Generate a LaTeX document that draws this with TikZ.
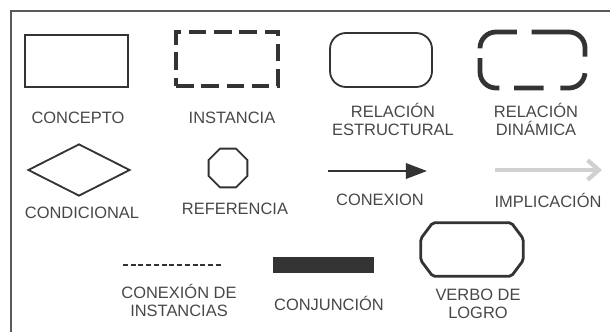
\documentclass[tikz,border=0pt]{standalone}
\usepackage{fontspec}
\setmainfont{Liberation Sans}
\usetikzlibrary{shapes.geometric,arrows.meta}
\definecolor{tinta}{HTML}{333333}
\definecolor{letra}{HTML}{474747}
\definecolor{marco}{HTML}{5A5A5A}
\definecolor{claro}{HTML}{D0D0D0}
\tikzset{
    caja/.style ={
        rectangle,
        minimum width =2.575cm,
        minimum height =1.3cm,
        inner sep=0pt,
        line width=1.6pt,
        draw=tinta
    },
    cajadash/.style ={
        caja,
        minimum width =2.55cm,
        minimum height =1.35cm,
        line width=2.2pt,
        dash pattern=on 12.5pt off 5.5pt
    },
    relest/.style ={
        rectangle,
        rounded corners=0.4cm,
        minimum width =2.55cm,
        minimum height =1.35cm,
        inner sep=0pt,
        line width=1.3pt,
        draw=tinta
    },
    reldin/.style ={
        relest,
        minimum width =2.625cm,
        minimum height =1.4cm,
        line width=3.4pt,
        dash pattern=on 49pt off 10.5pt on 32.9pt off 7pt on 30.1pt off 10.5pt on 21pt off 11.9pt on 23.1pt off 11.9pt,
        dash phase=22.4pt
    },
    verbo/.style ={
        rectangle,
        minimum width =2.55cm,
        minimum height =1.325cm,
        inner sep=0pt
    },
    octo/.style ={
        line width=2pt,
        rounded corners=1.5pt,
        draw=tinta
    },
    rombo/.style ={
        diamond,
        minimum width =2.55cm,
        minimum height =1.3cm,
        inner sep=0pt,
        line width=1.3pt,
        draw=tinta
    },
    octa/.style ={
        regular polygon,
        regular polygon sides=8,
        minimum size=1.05cm,
        inner sep=0pt,
        line width=1.3pt,
        draw=tinta
    },
    barra/.style ={
        rectangle,
        minimum width =2.525cm,
        minimum height =0.4cm,
        inner sep=0pt,
        fill=tinta
    },
    texto/.style ={
        align=center,
        inner sep=0pt,
        text=letra,
        font=\fontsize{11.7}{12.8}\selectfont
    }
}

\begin{document}
\begin{tikzpicture}
    \useasboundingbox (0,0) rectangle (15.25,-8.275);
    \draw[marco, line width=2pt] (0.275,-8.4) -- (0.275,-0.275) -- (15.4,-0.275);

        % primera fila
        \node[caja] (CONC) at(1.9125,-1.525) {};
        \node[cajadash] (INST) at(5.675,-1.475) {};
        \node[relest] (RELEST) at(9.525,-1.5) {};
        \node[reldin] (RELDIN) at(13.3125,-1.5) {};
        \node[texto] (TCONC) at(1.95,-2.95) {CONCEPTO};
        \node[texto] (TINST) at(5.8,-2.95) {INSTANCIA};
        \node[texto] (TRELEST) at(9.825,-2.975) {RELACIÓN\\ESTRUCTURAL};
        \node[texto] (TRELDIN) at(13.4,-2.975) {RELACIÓN\\DINÁMICA};

        % segunda fila
        \node[rombo] (COND) at(1.975,-4.25) {};
        \node[octa] (REF) at(5.7,-4.2) {};
        \coordinate (CONA) at(8.2,-4.275);
        \coordinate (CONB) at(10.675,-4.275);
        \coordinate (IMPA) at(12.375,-4.25);
        \coordinate (IMPB) at(15.05,-4.25);
        \draw[tinta, line width=1.4pt, -{Triangle[length=15pt,width=11pt]}] (CONA)--(CONB);
        \draw[claro, line width=3pt, -{Straight Barb[length=8pt,width=14pt]}] (IMPA)--(IMPB);
        \node[texto] (TCOND) at(2.05,-5.325) {CONDICIONAL};
        \node[texto] (TREF) at(5.875,-5.225) {REFERENCIA};
        \node[texto] (TCON) at(9.5,-5.0) {CONEXION};
        \node[texto] (TIMP) at(13.7,-5.0) {IMPLICACIÓN};

        % tercera fila
        \coordinate (INSA) at(3.075,-6.625);
        \coordinate (INSB) at(5.55,-6.625);
        \draw[tinta, line width=1.4pt, dash pattern=on 3.5pt off 2pt] (INSA)--(INSB);
        \node[barra] (CONJ) at(8.0875,-6.625) {};
        \node[verbo] (VERBO) at(11.8,-6.2375) {};
        \draw[octo] ([xshift=0.3cm]VERBO.north west) -- ([xshift=-0.3cm]VERBO.north east)
            -- ([yshift=-0.4cm]VERBO.north east) -- ([yshift=0.4cm]VERBO.south east)
            -- ([xshift=-0.3cm]VERBO.south east) -- ([xshift=0.3cm]VERBO.south west)
            -- ([yshift=0.4cm]VERBO.south west) -- ([yshift=-0.4cm]VERBO.north west) -- cycle;
        \node[texto] (TINS) at(4.475,-7.5) {CONEXIÓN DE\\INSTANCIAS};
        \node[texto] (TCONJ) at(8.225,-7.575) {CONJUNCIÓN};
        \node[texto] (TVERBO) at(11.95,-7.5875) {VERBO DE\\LOGRO};
\end{tikzpicture}
\end{document}
